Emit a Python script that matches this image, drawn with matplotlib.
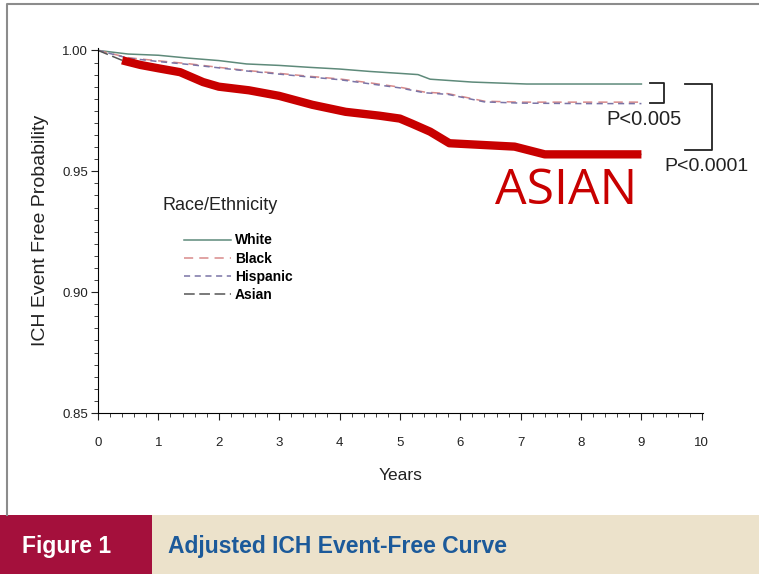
import matplotlib
matplotlib.use("Agg")
import matplotlib.pyplot as plt
from matplotlib.lines import Line2D
from matplotlib.patches import Rectangle
from matplotlib.ticker import MultipleLocator

plt.rcParams['font.family'] = ['Liberation Sans', 'DejaVu Sans']

# survival curves (years, event-free probability)
white_t = [0, 0.5, 1, 1.5, 2, 2.46, 3, 3.5, 4, 4.5, 5, 5.3, 5.5, 6.2, 7.1, 8, 9]
white_s = [1.0, 0.9985, 0.998, 0.9968, 0.9958, 0.9944, 0.9938, 0.993, 0.9923, 0.9913, 0.9905, 0.990, 0.9881, 0.9869, 0.9861, 0.9861, 0.9861]

black_t = [0, 0.5, 1, 1.5, 2, 2.46, 3, 3.5, 4, 4.5, 5, 5.4, 5.8, 6.4, 7, 8, 9]
black_s = [1.0, 0.997, 0.9957, 0.9945, 0.993, 0.9917, 0.9905, 0.9893, 0.9882, 0.9866, 0.9848, 0.9828, 0.9821, 0.979, 0.9786, 0.9786, 0.9786]

hisp_t = [0, 0.5, 1, 1.5, 2, 2.46, 3, 3.5, 4, 4.5, 5, 5.4, 5.8, 6.4, 7, 8, 9]
hisp_s = [1.0, 0.9968, 0.9954, 0.9942, 0.9928, 0.9915, 0.9902, 0.989, 0.9879, 0.9862, 0.9845, 0.9825, 0.9818, 0.9787, 0.9782, 0.978, 0.978]

asian_t = [0, 0.4, 0.7, 1, 1.36, 1.74, 2, 2.5, 3, 3.55, 4.1, 4.66, 5.0, 5.2, 5.5, 5.82, 6.9, 7.4, 8, 9]
asian_s = [1.0, 0.9959, 0.994, 0.9926, 0.991, 0.9869, 0.985, 0.9835, 0.9812, 0.9775, 0.9746, 0.973, 0.9718, 0.9697, 0.9664, 0.9616, 0.9602, 0.957, 0.957, 0.957]

groups = ["White", "Black", "Hispanic", "Asian"]
colors = ["#5e8a7a", "#d88a8a", "#7a74a6", "#555555"]
styles = ["-", (0, (6, 4)), (0, (4, 3)), (0, (7, 3))]

fig = plt.figure(figsize=(7.59, 5.74), dpi=100)

# outer frame (top and left edges) and caption banner
fig.lines.append(Line2D([7 / 759, 7 / 759, 1], [59 / 574, 570 / 574, 570 / 574],
                        transform=fig.transFigure, color="#8c8c8c", lw=1.5))
fig.patches.append(Rectangle((0, 0), 1, 59 / 574, transform=fig.transFigure,
                             facecolor="#ece2cb", edgecolor="none"))
fig.patches.append(Rectangle((0, 0), 152 / 759, 59 / 574, transform=fig.transFigure,
                             facecolor="#a4103c", edgecolor="none"))
fig.text(22 / 759, 28 / 574, "Figure 1", color="white", fontsize=16.5, fontweight="bold", va="center")
fig.text(168 / 759, 28 / 574, "Adjusted ICH Event-Free Curve", color="#1c5a9a", fontsize=16.5,
         fontweight="bold", va="center")

ax = fig.add_axes([98 / 759, 161 / 574, 605 / 759, 365 / 574])
ax.set_xlim(0, 10.02)
ax.set_ylim(0.85, 1.001)

series = [(white_t, white_s), (black_t, black_s), (hisp_t, hisp_s), (asian_t, asian_s)]
for (t, s), name, c, ls in zip(series, groups, colors, styles):
    ax.plot(t, s, color=c, linestyle=ls, lw=1.1, label=name)

# red highlight over the Asian curve
ax.plot(asian_t[1:], asian_s[1:], color="#c80000", lw=6, solid_capstyle="butt", zorder=5)
ax.text(7.75, 0.9418, "ASIAN", color="#c80000", fontsize=36, ha="center", va="center",
        family=["Open Sans", "DejaVu Sans"])

# p-value brackets
ax.plot([9.15, 9.37, 9.37, 9.15], [0.9864, 0.9864, 0.9781, 0.9781], color="#222222", lw=1.3, clip_on=False)
ax.plot([9.73, 10.17, 10.17, 9.73], [0.9860, 0.9860, 0.9590, 0.9590], color="#222222", lw=1.3, clip_on=False)
ax.text(8.42, 0.9713, "P<0.005", fontsize=14.5, color="#222222", va="center")
ax.text(9.38, 0.9521, "P<0.0001", fontsize=14, color="#222222", va="center")

for side in ["top", "right"]:
    ax.spines[side].set_visible(False)
ax.set_xticks(range(0, 11))
ax.set_yticks([0.85, 0.90, 0.95, 1.00])
ax.set_yticklabels(["0.85", "0.90", "0.95", "1.00"])
ax.xaxis.set_minor_locator(MultipleLocator(0.2))
ax.yaxis.set_minor_locator(MultipleLocator(0.005))
ax.tick_params(which="major", length=5, labelsize=9.5, colors="#222222")
ax.tick_params(which="minor", length=3, color="#222222")
ax.tick_params(axis="x", pad=12)
ax.tick_params(axis="y", pad=2)
ax.set_xlabel("Years", fontsize=12.5, labelpad=14, color="#222222")
ax.set_ylabel("ICH Event Free Probability", fontsize=14, labelpad=10, color="#222222")

fig.text(163 / 759, 368 / 574, "Race/Ethnicity", fontsize=13, color="#222222", va="center")
handles = [Line2D([0], [0], color=c, linestyle=ls, lw=1.1) for c, ls in zip(colors, styles)]
leg = ax.legend(handles, groups, loc="upper left", bbox_to_anchor=(171 / 759, 353 / 574),
                bbox_transform=fig.transFigure, frameon=False, handlelength=3.4,
                handletextpad=0.3, labelspacing=0.3, prop={"weight": "bold", "size": 10})

fig.savefig("out.png", dpi=100)
